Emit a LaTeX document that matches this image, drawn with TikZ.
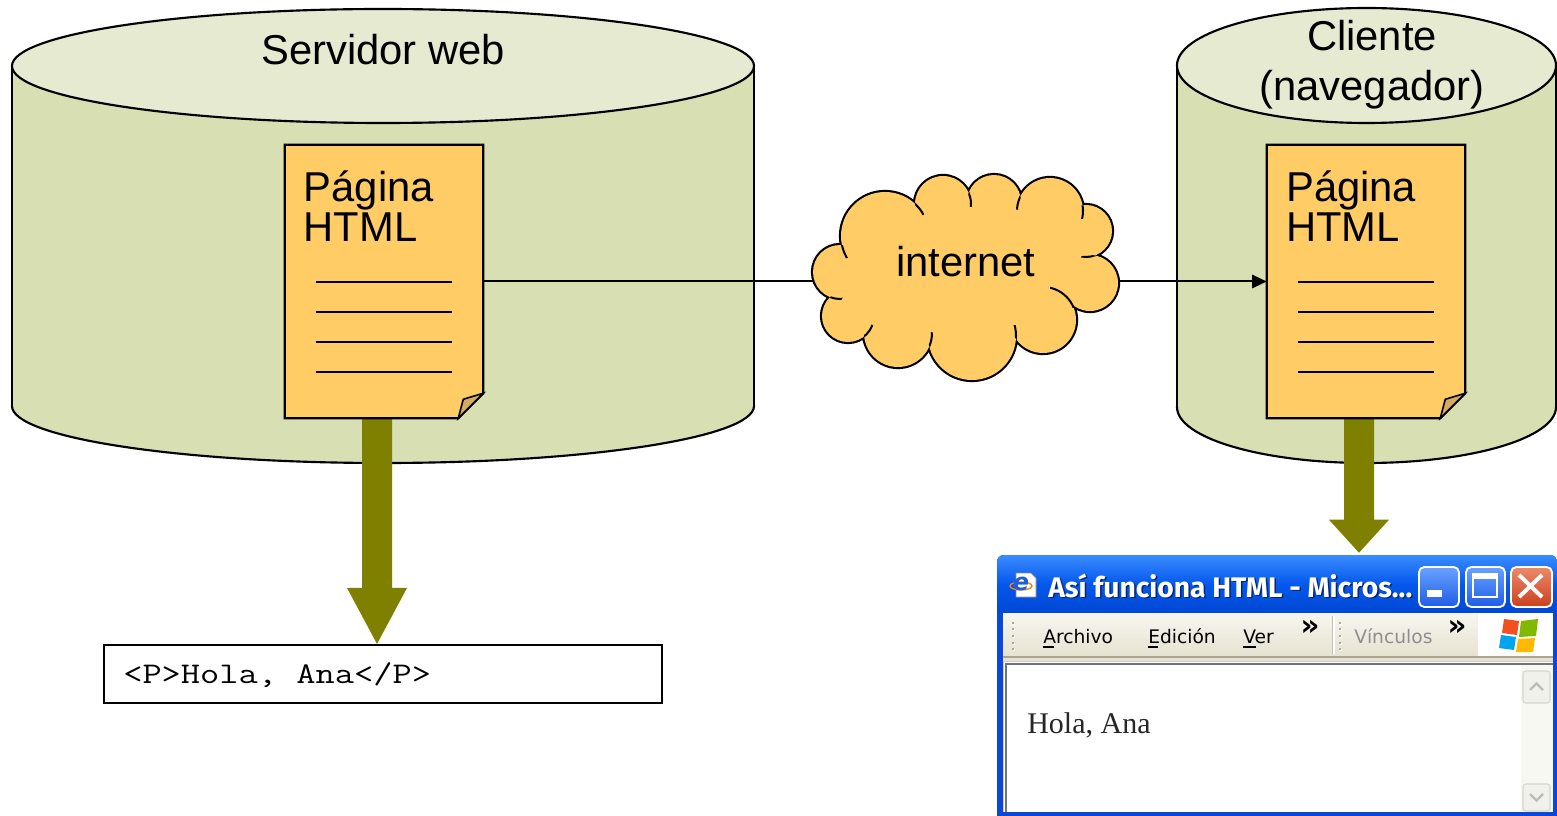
\documentclass[tikz,border=0pt]{standalone}
\usepackage{fontspec}
\usepackage{graphicx}
\setmainfont{Liberation Sans}
\newfontfamily\htmlfont{Liberation Serif}
\newfontfamily\uifont{DejaVu Sans}
\newfontfamily\titlefont{Fira Sans}
\usetikzlibrary{calc,arrows.meta}
\definecolor{cylbody}{RGB}{215,223,179}
\definecolor{cyltop}{RGB}{229,234,209}
\definecolor{pagefill}{RGB}{255,204,102}
\definecolor{foldfill}{RGB}{214,170,100}
\definecolor{olivearr}{RGB}{128,128,0}
\definecolor{xpframe}{HTML}{0A48DC}
\definecolor{xptitletop}{HTML}{3A8CFF}
\definecolor{xptitlemid}{HTML}{0558EC}
\definecolor{xptitlebot}{HTML}{0047D4}
\definecolor{xpbartop}{HTML}{F7F6F0}
\definecolor{xpbarbot}{HTML}{E6E2D0}
\definecolor{xpline}{HTML}{A9A591}
\definecolor{xpgray}{HTML}{8E8E8E}
\definecolor{btntop}{HTML}{6AA2FF}
\definecolor{btnbot}{HTML}{1E5CE6}
\definecolor{closetop}{HTML}{EE8A6A}
\definecolor{closebot}{HTML}{C9401E}
\definecolor{scrolltrack}{HTML}{F8F8F3}
\definecolor{scrollbtn}{HTML}{F1F1EB}
\definecolor{scrolledge}{HTML}{D6D6CE}
\definecolor{chev}{HTML}{BCBCB6}
\definecolor{winred}{HTML}{F25022}
\definecolor{wingreen}{HTML}{7FBA00}
\definecolor{winblue}{HTML}{00A4EF}
\definecolor{winyellow}{HTML}{FFB900}
\definecolor{iebl}{HTML}{1E5FD8}
\definecolor{shadowblue}{HTML}{0A246A}
\newcommand\docpage[1]{%
  \filldraw[fill=pagefill,blk] (#1.north west) -- (#1.north east) -- ($(#1.south east)+(0,-25)$) -- ($(#1.south east)+(-25,0)$) -- (#1.south west) -- cycle;
  \filldraw[fill=foldfill,blk,line width=1.2pt] ($(#1.south east)+(-25,0)$) -- ($(#1.south east)+(-20,-19)$) -- ($(#1.south east)+(0,-25)$) -- cycle;
  \foreach \yy in {137,167,197,227} \draw[docline] ($(#1.north west)+(31,\yy)$) -- ($(#1.north west)+(167,\yy)$);
}
\begin{document}
\begin{tikzpicture}[x=0.75pt,y=-0.75pt,
  blk/.style={draw=black,line width=1.6pt},
  pagebox/.style={minimum width=148.5pt,minimum height=204.75pt,inner sep=0pt},
  pagetext/.style={anchor=base west,inner sep=0pt,font=\fontsize{31.3}{37}\selectfont},
  labeltext/.style={anchor=base,inner sep=0pt,font=\fontsize{31.3}{37}\selectfont},
  docline/.style={line width=1.5pt},
  link/.style={line width=1.5pt},
  bigarrow/.style={fill=olivearr},
  menutext/.style={anchor=base west,inner sep=0pt,font=\uifont\fontsize{14}{16}\selectfont},
  chevrons/.style={inner sep=0pt,font=\uifont\bfseries\fontsize{22}{24}\selectfont},
]
\path[use as bounding box, fill=white] (0,0) rectangle (1557,816);

% invisible anchor nodes
\node[pagebox] (p1) at (384,281.5) {};
\node[pagebox] (p2) at (1366,281.5) {};
\node[draw,line width=1.6pt,minimum width=418.5pt,minimum height=43.5pt,inner sep=0pt] (code) at (383,674) {};
\node[minimum width=420pt,minimum height=195.75pt,inner sep=0pt] (win) at (1277,685.5) {};

% left cylinder
\filldraw[fill=cylbody,blk] (383,406) ellipse[x radius=371,y radius=57];
\fill[cylbody] (12,66) rectangle (754,406);
\draw[blk] (12,66) -- (12,406) (754,66) -- (754,406);
\filldraw[fill=cyltop,blk] (383,66) ellipse[x radius=371,y radius=57];

% right cylinder
\filldraw[fill=cylbody,blk] (1366.5,407) ellipse[x radius=189.5,y radius=56];
\fill[cylbody] (1177,65.5) rectangle (1556,407);
\draw[blk] (1177,65.5) -- (1177,407) (1556,65.5) -- (1556,407);
\filldraw[fill=cyltop,blk] (1366.5,65.5) ellipse[x radius=189.5,y radius=57.5];

\node[labeltext] (srv) at (383,65) {Servidor web};
\node[labeltext] (cli1) at (1372,50.7) {Cliente};
\node[labeltext] (cli2) at (1372,101) {(navegador)};

% thick olive arrows
\coordinate (a1s) at ($(p1.south)+(-7,0)$);
\coordinate (a1t) at (a1s |- code.north);
\fill[bigarrow] ($(a1s)+(-15,0)$) -- ($(a1t)+(-15,-56)$) -- ($(a1t)+(-30,-56)$) -- (a1t) -- ($(a1t)+(30,-56)$) -- ($(a1t)+(15,-56)$) -- ($(a1s)+(15,0)$) -- cycle;
\coordinate (a2s) at ($(p2.south)+(-7,0)$);
\coordinate (a2t) at ($(a2s |- win.north)+(0,-2)$);
\fill[bigarrow] ($(a2s)+(-15,0)$) -- ($(a2t)+(-15,-33)$) -- ($(a2t)+(-30,-33)$) -- (a2t) -- ($(a2t)+(30,-33)$) -- ($(a2t)+(15,-33)$) -- ($(a2s)+(15,0)$) -- cycle;

% pages
\docpage{p1}
\docpage{p2}
\node[pagetext] (t1a) at (303.5,201.7) {Página};
\node[pagetext] (t1b) at (303.5,241.7) {HTML};
\node[pagetext] (t2a) at (1286,201.7) {Página};
\node[pagetext] (t2b) at (1286,241.7) {HTML};

% code box text
\node[anchor=base west,inner sep=0pt] (codetxt) at (123,683) {\scalebox{1.245}[1]{\ttfamily\fontsize{22.5}{26}\selectfont <P>Hola, Ana</P>}};

% connectors
\coordinate (netW) at (822,281.5);
\coordinate (netE) at (1110,281.5);
\draw[link] (p1.east) -- (netW);
\draw[link,-{Triangle[length=11pt,width=10pt]}] (netE) -- (p2.west);

% cloud
\filldraw[fill=pagefill,draw=black,line width=3.2pt]
  \foreach \cx/\cy/\r in {840/272/27,885/236/44,943/204/28,994/202/27,1050/211/33,1086/231/26,1090/283/28,1043/320/33,972/336/44,898/333/34,848/316/26}
  { (\cx,\cy) circle[radius=\r] };
\fill[pagefill]
  \foreach \cx/\cy/\r in {840/272/27,885/236/44,943/204/28,994/202/27,1050/211/33,1086/231/26,1090/283/28,1043/320/33,972/336/44,898/333/34,848/316/26}
  { (\cx,\cy) circle[radius=\r] };
\fill[pagefill] (840,272) -- (885,236) -- (943,204) -- (994,202) -- (1050,211) -- (1086,231) -- (1090,283) -- (1043,320) -- (972,336) -- (898,333) -- (848,316) -- cycle;
\foreach \ax/\ay/\ar/\bx/\by/\br/\jx/\jy in {
  885/236/44/840/272/27/842/245,
  885/236/44/943/204/28/915/204,
  943/204/28/994/202/27/969/193,
  1050/211/33/994/202/27/1020/196,
  1050/211/33/1086/231/26/1082/205,
  1086/231/26/1090/283/28/1095/256,
  972/336/44/1043/320/33/1016/339,
  898/333/34/972/336/44/929/346,
  848/316/26/898/333/34/864/336,
  840/272/27/848/316/26/830/292}
{
  \begin{scope}
    \clip (\bx,\by) circle[radius=\br];
    \clip (\jx,\jy) circle[radius=14];
    \draw[line width=1.5pt] (\ax,\ay) circle[radius=\ar];
  \end{scope}
}
\begin{scope}
  \clip (1050,280) rectangle (1076,308);
  \draw[line width=1.5pt] (1043,320) circle[radius=33];
\end{scope}
\node[labeltext] (net) at (966,277) {internet};

% ---------- browser window ----------
\fill[xpframe] (997,816) [rounded corners=5pt] -- (997,555) -- (1557,555) [sharp corners] -- (1557,816) -- cycle;
\shade[top color=xptitletop,bottom color=xptitlebot,middle color=xptitlemid] (997,613) [rounded corners=5pt] -- (997,555) -- (1557,555) [sharp corners] -- (1557,613) -- cycle;
% icon
\filldraw[fill=white,draw=black!45,line width=0.6pt] (1016,573) -- (1031,573) -- (1036,578) -- (1036,597) -- (1016,597) -- cycle;
\draw[orange,line width=1pt] (1021,586) ellipse[x radius=11,y radius=4];
\node[inner sep=0pt,text=iebl,font=\uifont\bfseries\itshape\fontsize{18}{20}\selectfont] (ie) at (1021,584) {e};
% title text
\node[anchor=base west,inner sep=0pt,text=shadowblue] (titsh) at (1049.5,598.5) {\resizebox{273pt}{!}{\titlefont\bfseries Así funciona HTML - Micros...}};
\node[anchor=base west,inner sep=0pt,text=white] (tit) at (1048,597) {\resizebox{273pt}{!}{\titlefont\bfseries Así funciona HTML - Micros...}};
% buttons
\shade[top color=btntop,bottom color=btnbot,rounded corners=4pt] (1419,567) rectangle (1459,607);
\draw[white,line width=1.4pt,rounded corners=4pt] (1419,567) rectangle (1459,607);
\fill[white] (1427,590) rectangle (1442,597);
\shade[top color=btntop,bottom color=btnbot,rounded corners=4pt] (1466,567) rectangle (1505,607);
\draw[white,line width=1.4pt,rounded corners=4pt] (1466,567) rectangle (1505,607);
\draw[white,line width=1.5pt] (1472.5,574) rectangle (1497,597);
\fill[white] (1472,573.3) rectangle (1497.5,579);
\shade[top color=closetop,bottom color=closebot,rounded corners=4pt] (1511,567) rectangle (1552,607);
\draw[white,line width=1.4pt,rounded corners=4pt] (1511,567) rectangle (1552,607);
\draw[white,line width=3pt] (1519,575) -- (1542,597) (1542,575) -- (1519,597);
% menu bar
\shade[top color=xpbartop,bottom color=xpbarbot] (1003,613) rectangle (1478,657);
\fill[white] (1478,613) rectangle (1553,657);
\draw[white,line width=1pt] (1334,616) -- (1334,654);
\draw[xpline!70,line width=1pt] (1332.5,616) -- (1332.5,654);
\foreach \gx in {1012,1339}{
  \foreach \gy in {621.7,628.3,635,641.7,648.3}{
    \fill[white] (\gx+1,\gy+1) rectangle ++(2,2);
    \fill[black!35] (\gx,\gy) rectangle ++(2,2);
  }
}
\node[menutext] (m1) at (1043,643) {Archivo};
\node[menutext] (m2) at (1148,643) {Edición};
\node[menutext] (m3) at (1243,643) {Ver};
\draw[line width=1.1pt] (1043,647) -- (1054,647) (1148,647) -- (1158,647) (1243,647) -- (1256,647);
\node[chevrons] (ch1) at (1310,628) {»};
\node[menutext,text=xpgray] (m4) at (1354,643) {Vínculos};
\node[chevrons] (ch2) at (1457,628) {»};
% windows flag
\fill[winred] (1504,619) -- (1519,621) -- (1517,635) -- (1502,633) -- cycle;
\fill[wingreen] (1521,621) -- (1538,619) -- (1536,636) -- (1519,637) -- cycle;
\fill[winblue] (1501,635) -- (1516,637) -- (1514,650) -- (1499,648) -- cycle;
\fill[winyellow] (1518,639) -- (1535,638) -- (1533,652) -- (1516,652) -- cycle;
% content border
\fill[xpbarbot] (1003,657) rectangle (1553,661);
\draw[xpline,line width=0.8pt] (1003,657) -- (1553,657);
\fill[white] (1003,661) rectangle (1553,812);
\draw[black!20,line width=1.2pt] (1003.6,812) -- (1003.6,661.6) -- (1553,661.6);
\draw[black!55,line width=1.5pt] (1005.8,812) -- (1005.8,664) -- (1553,664);
% scrollbar
\fill[scrolltrack] (1521,665) rectangle (1553,812);
\filldraw[fill=scrollbtn,draw=scrolledge,rounded corners=2pt,line width=0.8pt] (1523,671) rectangle (1550,703);
\draw[chev,line width=1.8pt] (1530,690) -- (1536.5,683.5) -- (1543,690);
\filldraw[fill=scrollbtn,draw=scrolledge,rounded corners=2pt,line width=0.8pt] (1523,784) rectangle (1550,811);
\draw[chev,line width=1.8pt] (1530,794) -- (1536.5,800.5) -- (1543,794);
\node[anchor=base west,inner sep=0pt,font=\htmlfont\fontsize{22.5}{26}\selectfont,text=black!85] (hola) at (1027,733) {Hola, Ana};
\end{tikzpicture}
\end{document}
